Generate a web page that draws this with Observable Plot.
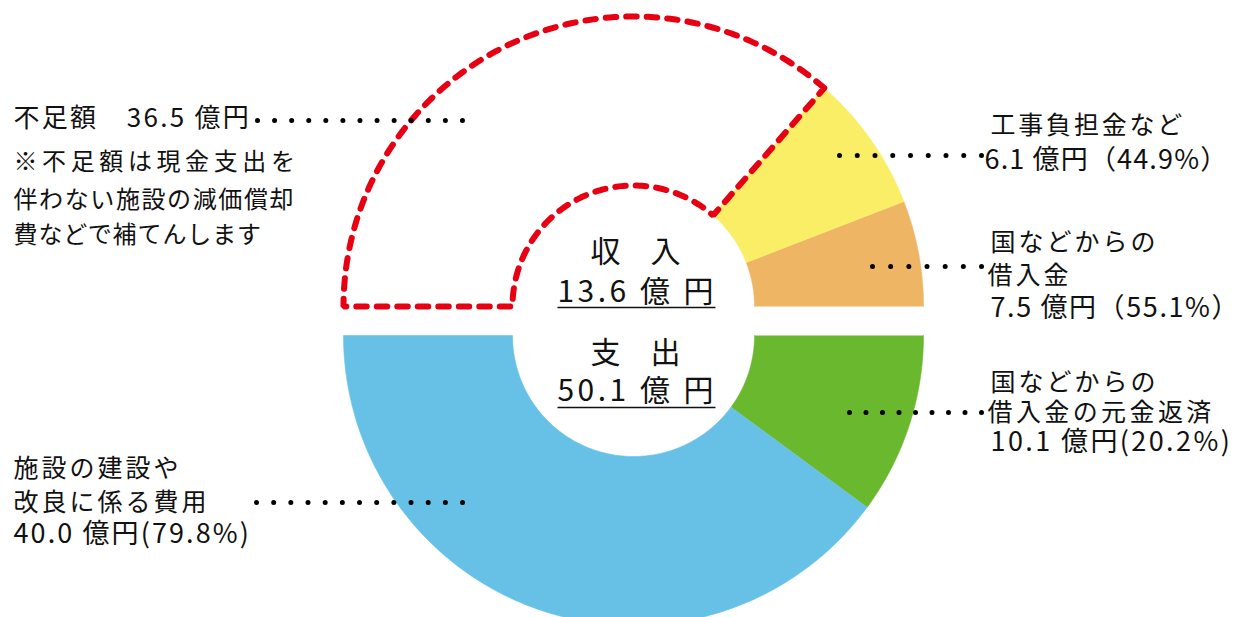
<!DOCTYPE html>
<html><head><meta charset="utf-8">
<script src="https://cdn.jsdelivr.net/npm/d3@7"></script>
<script src="https://cdn.jsdelivr.net/npm/@observablehq/plot@0.6"></script>
<style>html,body{margin:0;background:#fff}#chart svg{display:block}</style>
</head><body><div id="chart"></div>
<script>
// ---------- data (億円) ----------
const totalLabel = ["収　入", "支　出"];
const totals = [13.6, 50.1];
const shortageName = "不足額";
const shortageValue = 36.5;
const noteLines = ["※不足額は現金支出を", "伴わない施設の減価償却", "費などで補てんします"];
// income slices as drawn (from the right edge, counter-clockwise)
const incomeNames = ["国などからの借入金", "工事負担金など"];
const incomeValues = [7.5, 6.1];
const incomePct = [55.1, 44.9];
const incomeDrawn = [5.9, 7.7]; // sector sizes as they appear in the picture
// expense slices (from the right edge, clockwise)
const expenseNames = ["国などからの借入金の元金返済", "施設の建設や改良に係る費用"];
const expenseValues = [10.1, 40.0];
const expensePct = [20.2, 79.8];

// ---------- layout & style ----------
const W = 1234, H = 617;
const G = {cx: 633, cyTop: 306, cyBot: 335, rOut: 290, rIn: 121};
const C = {orange: "#edb564", yellow: "#f9ee66", green: "#69b82e", blue: "#67c1e6", red: "#e60012"};
const incomeColors = [C.orange, C.yellow];
const expenseColors = [C.green, C.blue];
const FONT = "'Noto Sans CJK JP', 'Noto Sans', sans-serif";

const angle = d3.scaleLinear().domain([0, totals[1]]).range([0, Math.PI]);

function sector(v0, v1, cy, dir, key, color) {
  const a0 = angle(v0), a1 = angle(v1), n = 120, pts = [];
  for (let i = 0; i <= n; i++) {
    const t = a0 + (a1 - a0) * i / n;
    pts.push({key, color, x: G.cx + G.rOut * Math.cos(t), y: cy - dir * G.rOut * Math.sin(t)});
  }
  for (let i = n; i >= 0; i--) {
    const t = a0 + (a1 - a0) * i / n;
    pts.push({key, color, x: G.cx + G.rIn * Math.cos(t), y: cy - dir * G.rIn * Math.sin(t)});
  }
  return pts;
}

const slicePts = [];
let acc = 0;
incomeDrawn.forEach((v, i) => { slicePts.push(...sector(acc, acc + v, G.cyTop, 1, "in" + i, incomeColors[i])); acc += v; });
const shortageStart = acc;
const shortagePts = sector(shortageStart, shortageStart + shortageValue, G.cyTop, 1, "short", C.red);
shortagePts.push(shortagePts[0]);
acc = 0;
expenseValues.forEach((v, i) => { slicePts.push(...sector(acc, acc + v, G.cyBot, -1, "ex" + i, expenseColors[i])); acc += v; });

// leader dots
const leaders = [
  {x1: 257, x2: 462, y: 120, gap: 17.08},
  {x1: 839, x2: 981, y: 155, gap: 17.75},
  {x1: 872, x2: 981, y: 266, gap: 18.17},
  {x1: 849, x2: 981, y: 412, gap: 16.5},
  {x1: 256, x2: 462, y: 502, gap: 17.17}
];

// text lines
const fmt = v => v.toFixed(1);
const lines = [
  {t: `${shortageName}　${fmt(shortageValue)} 億円`, x: 13, y: 118, fs: 26, ls: 2.3},
  {t: noteLines[0], x: 13, y: 162, fs: 24, ls: 4.6},
  {t: noteLines[1], x: 13, y: 200, fs: 24, ls: 1.6},
  {t: noteLines[2], x: 13, y: 235, fs: 24, ls: 0.9},
  {t: incomeNames[1], x: 990, y: 125, fs: 25, ls: 2.8},
  {t: `${fmt(incomeValues[1])} 億円（${fmt(incomePct[1])}%）`, x: 984, y: 160, fs: 27, ls: 1.15},
  {t: incomeNames[0].slice(0, 6), x: 990, y: 242, fs: 25, ls: 3},
  {t: incomeNames[0].slice(6), x: 987, y: 275, fs: 25, ls: 3},
  {t: `${fmt(incomeValues[0])} 億円（${fmt(incomePct[0])}%）`, x: 990, y: 308, fs: 27, ls: 1.6},
  {t: expenseNames[0].slice(0, 6), x: 990, y: 382, fs: 25, ls: 3},
  {t: expenseNames[0].slice(6), x: 987, y: 412, fs: 25, ls: 3.4},
  {t: `${fmt(expenseValues[0])} 億円(${fmt(expensePct[0])}%)`, x: 990, y: 442, fs: 27, ls: 2.4},
  {t: expenseNames[1].slice(0, 6), x: 13, y: 468, fs: 25, ls: 3},
  {t: expenseNames[1].slice(6), x: 13, y: 502, fs: 25, ls: 3},
  {t: `${fmt(expenseValues[1])} 億円(${fmt(expensePct[1])}%)`, x: 13, y: 534, fs: 27, ls: 2.1}
];
const center = [
  {t: totalLabel[0], y: 252, fs: 30, ls: 0},
  {t: `${fmt(totals[0])} 億 円`, y: 292, fs: 30, ls: 3.5},
  {t: totalLabel[1], y: 353, fs: 30, ls: 0},
  {t: `${fmt(totals[1])} 億 円`, y: 391, fs: 30, ls: 3.5}
];
const underlines = [{x1: 557, x2: 715, y: 307}, {x1: 557, x2: 715, y: 407}];

const marks = [
  Plot.line(slicePts, {x: "x", y: "y", z: "key", fill: "color", stroke: "color", strokeWidth: 0.6, curve: "linear"}),
  Plot.line(shortagePts, {x: "x", y: "y", stroke: C.red, strokeWidth: 6, strokeDasharray: "10.5,10", strokeLinejoin: "miter", curve: "linear"}),
  ...leaders.map(l => Plot.link([l], {x1: "x1", x2: d => d.x2 + 0.6, y1: "y", y2: "y", stroke: "#000", strokeWidth: 5, strokeLinecap: "round", strokeDasharray: `0 ${l.gap}`})),
  Plot.link(underlines, {x1: "x1", x2: "x2", y1: "y", y2: "y", stroke: "#111", strokeWidth: 1.6}),
  ...lines.map(l => Plot.text([l], {x: "x", y: "y", text: "t", textAnchor: "start", lineAnchor: "middle", fontSize: l.fs, fontFamily: FONT, fill: "#111"})),
  ...center.map(l => Plot.text([l], {x: () => G.cx + 2 + l.ls / 2, y: "y", text: "t", textAnchor: "middle", lineAnchor: "middle", fontSize: l.fs, fontFamily: FONT, fill: "#111"}))
];

const plot = Plot.plot({
  width: W, height: H, margin: 0,
  x: {domain: [0, W], range: [0, W], axis: null},
  y: {domain: [0, H], range: [0, H], axis: null},
  color: {type: "identity"},
  style: {background: "#fff", overflow: "hidden"},
  marks
});
// apply letter spacing per text line (matched by its content)
const spacing = new Map([...lines, ...center].map(l => [l.t, l.ls]));
d3.select(plot).selectAll("text").each(function () {
  const ls = spacing.get(this.textContent);
  if (ls != null) { this.setAttribute("letter-spacing", ls); this.style.letterSpacing = ls + "px"; }
});
document.getElementById("chart").appendChild(plot);
</script>
</body></html>
